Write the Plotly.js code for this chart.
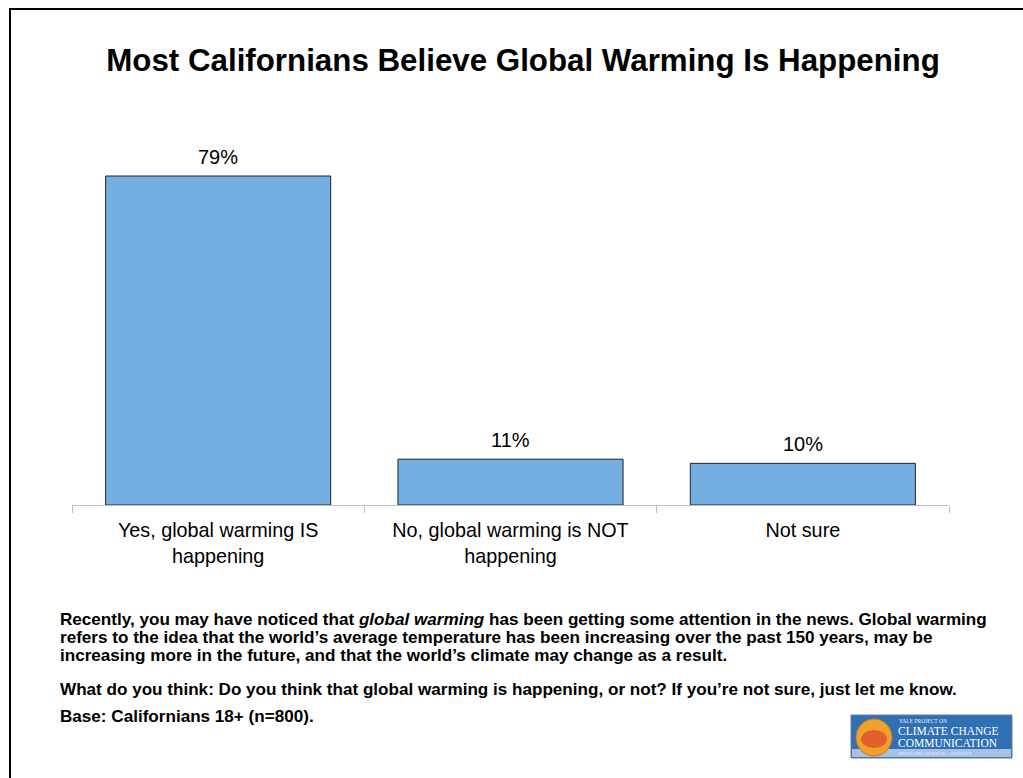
<!DOCTYPE html>
<html>
<head>
<meta charset="utf-8">
<script src="https://cdn.plot.ly/plotly-3.0.1.min.js"></script>
<style>
html,body{margin:0;padding:0;background:#fff;}
#chart{width:1023px;height:778px;}
</style>
</head>
<body>
<div id="chart"></div>
<script>
const categories = ["Yes, global warming IS<br>happening", "No, global warming is NOT<br>happening", "Not sure"];
const values = [79, 11, 10];
const valueLabels = ["79%", "11%", "10%"];
const chartTitle = "Most Californians Believe Global Warming Is Happening";
const noteLines = [
  "Recently, you may have noticed that <i>global warming</i> has been getting some attention in the news. Global warming",
  "refers to the idea that the world’s average temperature has been increasing over the past 150 years, may be",
  "increasing more in the future, and that the world’s climate may change as a result."
];
const question = "What do you think: Do you think that global warming is happening, or not? If you’re not sure, just let me know.";
const baseNote = "Base: Californians 18+ (n=800).";

// plot area geometry (pixels)
const W = 1023, H = 778;
const L = 72, R = 949, T = 130, B = 505;
const pw = R - L, ph = B - T;
const px = x => (x - L) / pw;
const py = y => (B - y) / ph;

const font = "Arial, 'Liberation Sans', sans-serif";
const serif = "'Liberation Serif', 'DejaVu Serif', serif";

const trace = {
  type: "bar",
  x: categories,
  y: values,
  cliponaxis: false,
  marker: {color: "#75afe1", line: {color: "#1e2430", width: 1}},
  hoverinfo: "skip"
};

const annotations = [];
// value labels, placed from the data
categories.forEach((c, i) => annotations.push({
  xref: "x", yref: "y", x: c, y: values[i], xanchor: "center", yanchor: "bottom", yshift: 6,
  text: valueLabels[i], showarrow: false, font: {family: font, size: 20, color: "#000"}
}));

const noteFont = {family: font, size: 17.1, color: "#000"};
const noteY = [619, 637, 655];
noteLines.forEach((t, i) => annotations.push({
  xref: "paper", yref: "paper", x: px(58), y: py(noteY[i]), xanchor: "left", yanchor: "middle",
  text: "<b>" + t + "</b>", showarrow: false, font: noteFont
}));
annotations.push({xref: "paper", yref: "paper", x: px(58), y: py(689), xanchor: "left", yanchor: "middle",
  text: "<b>" + question + "</b>", showarrow: false, font: noteFont});
annotations.push({xref: "paper", yref: "paper", x: px(58), y: py(716), xanchor: "left", yanchor: "middle",
  text: "<b>" + baseNote + "</b>", showarrow: false, font: noteFont});

// logo texts
annotations.push({xref: "paper", yref: "paper", x: px(897), y: py(721), xanchor: "left", yanchor: "middle",
  text: "YALE PROJECT ON", showarrow: false, font: {family: serif, size: 5.5, color: "#e8eef8"}});
annotations.push({xref: "paper", yref: "paper", x: px(896), y: py(731), xanchor: "left", yanchor: "middle",
  text: "CLIMATE CHANGE", showarrow: false, font: {family: serif, size: 11.5, color: "#ffffff"}});
annotations.push({xref: "paper", yref: "paper", x: px(896), y: py(743), xanchor: "left", yanchor: "middle",
  text: "COMMUNICATION", showarrow: false, font: {family: serif, size: 11.5, color: "#ffffff"}});
annotations.push({xref: "paper", yref: "paper", x: px(897), y: py(753), xanchor: "left", yanchor: "middle",
  text: "BRIDGING SCIENCE + SOCIETY", showarrow: false, font: {family: serif, size: 5, color: "#e8eef8"}});

const shapes = [
  // frame
  {type: "line", xref: "paper", yref: "paper", x0: px(9), x1: px(1023), y0: py(9), y1: py(9), line: {color: "#000", width: 2}},
  {type: "line", xref: "paper", yref: "paper", x0: px(10), x1: px(10), y0: py(8), y1: py(778), line: {color: "#000", width: 2}},
  // logo
  {type: "rect", xref: "paper", yref: "paper", x0: px(851), x1: px(1012), y0: py(715), y1: py(758), fillcolor: "#2f6fb4", line: {color: "#6d7f96", width: 1}},
  {type: "rect", xref: "paper", yref: "paper", x0: px(852), x1: px(1011), y0: py(749), y1: py(757), fillcolor: "#a7c0e4", line: {width: 0}},
  {type: "circle", xref: "paper", yref: "paper", x0: px(856), x1: px(892), y0: py(719), y1: py(756), fillcolor: "#f0a02c", line: {color: "#c9781a", width: 1}},
  {type: "circle", xref: "paper", yref: "paper", x0: px(861), x1: px(887), y0: py(730), y1: py(748), fillcolor: "#e2602c", line: {width: 0}}
];

const layout = {
  width: W, height: H,
  paper_bgcolor: "#fff", plot_bgcolor: "#fff",
  margin: {l: L, r: W - R, t: T, b: H - B, pad: 0},
  showlegend: false,
  bargap: 0.23,
  title: {
    text: "<b>" + chartTitle + "</b>",
    x: 523 / W, xanchor: "center", xref: "container",
    y: 1 - 60 / H, yanchor: "middle", yref: "container",
    font: {family: font, size: 31.3, color: "#000"}
  },
  xaxis: {
    range: [-0.5, 2.5],
    showline: true, linecolor: "#bfbfbf", linewidth: 1,
    ticks: "outside", tickson: "boundaries", ticklen: 7, tickcolor: "#bfbfbf", tickwidth: 1,
    ticklabelstandoff: 7,
    tickfont: {family: font, size: 19.8, color: "#000"},
    showgrid: false, zeroline: false, fixedrange: true
  },
  yaxis: {
    range: [0, ph / (329 / 79)],
    visible: false, showgrid: false, zeroline: false, fixedrange: true
  },
  shapes: shapes,
  annotations: annotations
};

Plotly.newPlot("chart", [trace], layout, {displayModeBar: false, staticPlot: true});
</script>
</body>
</html>
